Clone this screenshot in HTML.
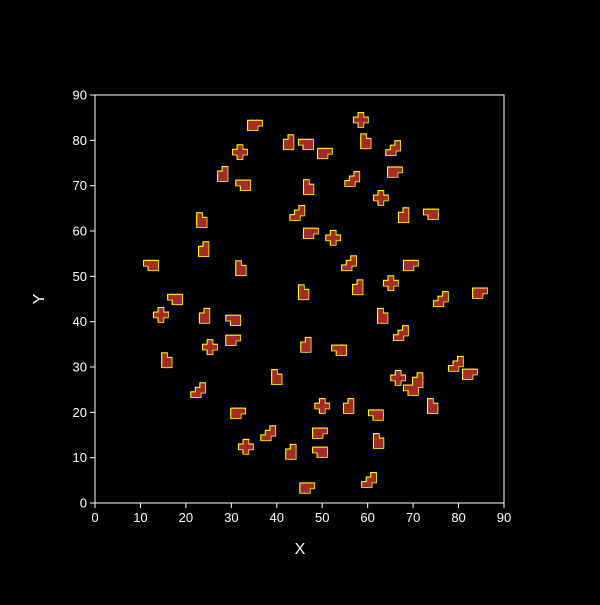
<!DOCTYPE html>
<html><head><meta charset="utf-8"><style>
html,body{margin:0;padding:0;background:#000;}
svg text{font-family:"Liberation Sans",sans-serif;fill:#fff;}
</style></head><body>
<svg id="chart" width="600" height="600" viewBox="0 0 600 600">
<rect x="0" y="0" width="600" height="600" fill="#000"/>
<g id="strokes"></g>
<g id="fills"></g>
<rect x="95" y="95" width="409" height="408" fill="none" stroke="#fff" stroke-width="1"/>
<g id="axes"></g>
<text x="300" y="554" font-size="16" text-anchor="middle">X</text>
<text x="44" y="299" font-size="16" text-anchor="middle" transform="rotate(-90 44 299)">Y</text>
</svg>
<script>
const xTicks=[0,10,20,30,40,50,60,70,80,90];
const yTicks=[0,10,20,30,40,50,60,70,80,90];
const shapeX=[35.2,58.5,43.1,46.4,60.1,65.6,50.6,31.9,28.6,32.6,47.5,56.6,66,62.9,68.4,73.9,24,44.5,47.5,52.4,24.4,12.3,32.6,55.9,69.5,65.1,58.3,17.6,46.4,76.1,84.7,14.5,24.6,30.4,63.8,67.3,30.4,25.3,46.9,53.7,16.3,79.4,82.5,66.7,71.5,69.5,40.5,22.7,31.5,50,56.3,61.8,74.8,38.1,49.5,33.2,43.6,49.5,62.9,60.3,46.7];
const shapeY=[83.8,84.5,79.6,79.6,79.8,78.3,77.6,77.4,72.6,70.6,69.7,71.5,73.5,67.3,63.5,64.2,62.4,64,60,58.5,56,52.9,51.8,52.9,52.9,48.5,47.6,45.4,46.5,45,46.8,41.5,41.3,40.8,41.3,37.5,36.4,34.4,34.9,34.2,31.5,30.7,28.9,27.6,27.1,25.4,27.8,24.9,20.3,21.4,21.4,19.9,21.4,15.4,15.9,12.4,11.3,11.7,13.7,5.1,3.8];
const templates=[
 [[-1,0],[0,0],[-1,-1],[0,-1],[1,0]],
 [[-1,0],[0,0],[0,-1],[0,1],[1,0]],
 [[-1,0],[0,0],[-1,-1],[0,-1],[0,1]],
 [[-1,0],[0,0],[1,0],[0,-1],[1,-1]],
 [[-1,-1],[0,-1],[-1,0],[0,0],[-1,1]],
 [[0,0],[1,0],[0,-1],[-1,-1],[1,1]]
];
const x0=95,x1=504,y0=503,y1=95;
const sx=v=>x0+(v-0)/(90-0)*(x1-x0);
const sy=v=>y0-(v-0)/(90-0)*(y0-y1);
const NS='http://www.w3.org/2000/svg';
const axes=document.getElementById('axes');
xTicks.forEach(t=>{
 const l=document.createElementNS(NS,'line');
 l.setAttribute('x1',sx(t));l.setAttribute('x2',sx(t));l.setAttribute('y1',503);l.setAttribute('y2',508);l.setAttribute('stroke','#fff');
 
 
 axes.appendChild(l);
 const tx=document.createElementNS(NS,'text');
 tx.setAttribute('x',sx(t));tx.setAttribute('y',522);tx.setAttribute('font-size','13');tx.setAttribute('text-anchor','middle');tx.textContent=t;
 
 
 axes.appendChild(tx);
});
yTicks.forEach(t=>{
 const l=document.createElementNS(NS,'line');
 l.setAttribute('x1',90);l.setAttribute('x2',95);l.setAttribute('y1',sy(t));l.setAttribute('y2',sy(t));l.setAttribute('stroke','#fff');
 
 
 axes.appendChild(l);
 const tx=document.createElementNS(NS,'text');
 tx.setAttribute('x',87);tx.setAttribute('y',sy(t)+4.5);tx.setAttribute('font-size','13');tx.setAttribute('text-anchor','end');tx.textContent=t;
 
 
 axes.appendChild(tx);
});
const gs=document.getElementById('strokes'),gf=document.getElementById('fills');
const cw=sx(1)-sx(0),ch=sy(0)-sy(1);
shapeX.forEach((cx,i)=>{
 const cy=shapeY[i];
 const tpl=templates[i%templates.length];
 tpl.forEach(c=>{
  const px=sx(cx+c[0]*1-0.5),py=sy(cy+c[1]*1+0.5);
  const r1=document.createElementNS(NS,'rect');
  r1.setAttribute('x',px);r1.setAttribute('y',py);r1.setAttribute('width',cw);r1.setAttribute('height',ch);
  r1.setAttribute('fill','#ffff00');r1.setAttribute('stroke','#ffff00');r1.setAttribute('stroke-width','2.2');
  
  
  gs.appendChild(r1);
  const r2=document.createElementNS(NS,'rect');
  r2.setAttribute('x',px);r2.setAttribute('y',py);r2.setAttribute('width',cw+0.3);r2.setAttribute('height',ch+0.3);
  r2.setAttribute('fill','#a52a2a');
  
  
  gf.appendChild(r2);
 });
});
</script>
</body></html>
